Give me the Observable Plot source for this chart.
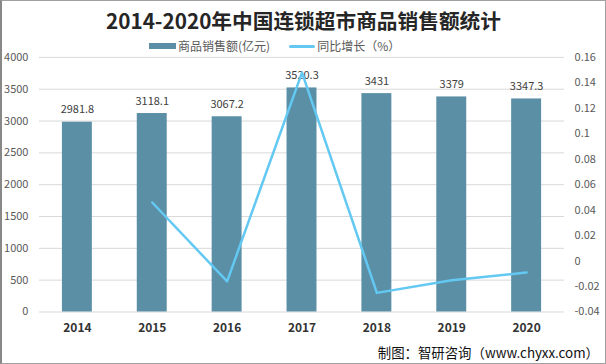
<!DOCTYPE html>
<html><head><meta charset="utf-8">
<script src="https://cdn.jsdelivr.net/npm/d3@7"></script>
<script src="https://cdn.jsdelivr.net/npm/@observablehq/plot@0.6"></script>
<style>
body{margin:0;background:#fff;}
#wrap{position:relative;width:606px;height:364px;box-sizing:border-box;border:1px solid #a0a0a0;border-left:2px solid #888;overflow:hidden;font-family:"Noto Sans CJK SC","Noto Sans",sans-serif;}
#chart{position:absolute;left:-2px;top:-1px;}
#title{position:absolute;left:0;right:0;top:5px;text-align:center;font-size:20.7px;font-weight:bold;color:#262626;line-height:28px;}
#legend{position:absolute;top:36px;left:147px;font-size:12px;color:#595959;display:flex;align-items:center;line-height:18px;}
.sw{display:inline-block;width:27px;margin-right:2px;}
#caption{position:absolute;right:6px;top:341px;font-size:13.4px;color:#111;line-height:20px;}
</style></head>
<body><div id="wrap">
<div id="chart"></div>
<div id="title">2014-2020年中国连锁超市商品销售额统计</div>
<div id="legend"><span class="sw" style="height:6px;background:#5b8fa6"></span><span>商品销售额(亿元)</span><span class="sw" style="height:3px;background:#63c8f2;margin-left:19px;border-radius:2px;width:26px"></span><span>同比增长（%）</span></div>
<div id="caption">制图：智研咨询（www.chyxx.com）</div>
</div>
<script>
const years = ["2014","2015","2016","2017","2018","2019","2020"];
const sales = [2981.8, 3118.1, 3067.2, 3520.3, 3431, 3379, 3347.3];
const salesLabels = ["2981.8","3118.1","3067.2","3520.3","3431","3379","3347.3"];
const growthYears = ["2015","2016","2017","2018","2019","2020"];
const growth = [0.046, -0.016, 0.148, -0.025, -0.015, -0.009];
const leftTicks = [0,500,1000,1500,2000,2500,3000,3500,4000];
const rightTicks = [-0.04,-0.02,0,0.02,0.04,0.06,0.08,0.1,0.12,0.14,0.16];

const rMin = -0.04, rMax = 0.16, lMax = 4000;
const toLeft = v => (v - rMin) / (rMax - rMin) * lMax;

const bars = years.map((y,i)=>({year:y, value:sales[i], label:salesLabels[i]}));
const line = growthYears.map((y,i)=>({year:y, g:growth[i]}));

const plot = Plot.plot({
  width: 606, height: 364,
  marginTop: 57, marginBottom: 52, marginLeft: 39, marginRight: 41,
  style:{fontFamily:'"Noto Sans CJK SC","Noto Sans",sans-serif', background:"transparent"},
  x:{domain:years, paddingInner:0.6, paddingOuter:0.3, label:null},
  y:{domain:[0,lMax], label:null},
  marks:[
    Plot.gridY(leftTicks,{stroke:"#d9d9d9", strokeOpacity:1}),
    Plot.axisY(leftTicks,{tickSize:0, tickPadding:11, fill:"#595959", fontSize:11, label:null, tickFormat:d=>String(d)}),
    Plot.axisY(rightTicks.map(toLeft),{anchor:"right", tickSize:0, tickPadding:10, fill:"#595959", fontSize:11, label:null,
      tickFormat:(d,i)=>String(rightTicks[i])}),
    Plot.axisX({tickSize:0, tickPadding:12, fontWeight:"bold", fill:"#333", fontSize:12, label:null}),
    Plot.barY(bars,{x:"year", y:"value", fill:"#5b8fa6"}),
    Plot.text(bars,{x:"year", y:"value", text:"label", dy:-9, lineAnchor:"bottom", fill:"#404040", fontSize:11}),
    Plot.line(line,{x:"year", y:d=>toLeft(d.g), stroke:"#63c8f2", strokeWidth:2.5})
  ]
});
document.getElementById("chart").appendChild(plot);
</script>
</body></html>
